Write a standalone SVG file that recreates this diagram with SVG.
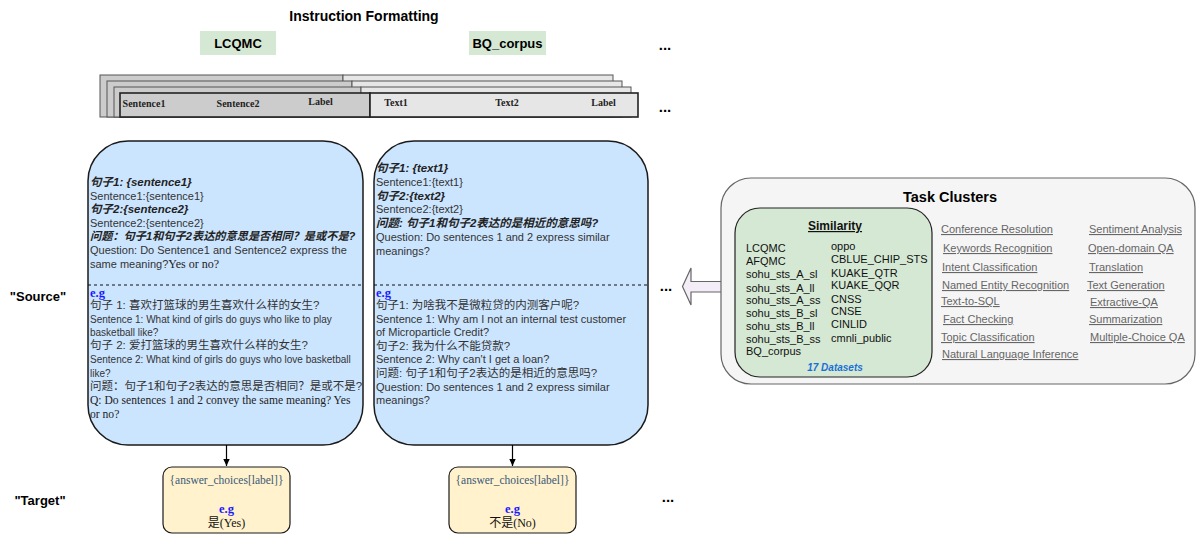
<svg xmlns="http://www.w3.org/2000/svg" width="1196" height="535" viewBox="0 0 1196 535">
<defs>
<style>
.sans{font-family:"Liberation Sans",Arial,"Noto Sans CJK SC",sans-serif}
.serif{font-family:"Liberation Serif","Times New Roman","Noto Sans CJK SC",serif}
.cjk{font-family:"Liberation Sans",Arial,"Noto Sans CJK SC",sans-serif}
.hdr{font-weight:bold;fill:#000}
.src{fill:#cce5ff;stroke:#1a1a1a;stroke-width:1.5}
.tgt{fill:#fff2cc;stroke:#1a1a1a;stroke-width:1.2}
.dash{stroke:#111;stroke-width:1.2;stroke-dasharray:3 3;fill:none}
.t11{font-size:11px;fill:#333}
.t10{font-size:10px;fill:#333}
.c115{font-size:11.5px;fill:#333}
.bi{font-weight:bold;font-style:italic;fill:#222}
.eg{font-weight:bold;font-size:12.5px;fill:#1a1aff}
.gray{fill:#cccccc;stroke:#555;stroke-width:1}
.light{fill:#e6e6e6;stroke:#555;stroke-width:1}
.front{stroke:#222;stroke-width:1.6}
.tbl{font-family:"Liberation Serif","Times New Roman",serif;font-weight:bold;font-size:10px;fill:#222}
.task{font-size:11px;fill:#666;text-decoration:underline}
.ds{font-size:11px;fill:#111}
.dots{font-family:"Liberation Sans",Arial,sans-serif;font-weight:bold;font-size:15px;fill:#000}
.conn{stroke:#000;stroke-width:1.2;fill:none}
</style>
<marker id="ah" markerWidth="8" markerHeight="8" refX="7" refY="4" orient="auto" markerUnits="userSpaceOnUse">
<path d="M0,0.8 L7,4 L0,7.2 Z" fill="#000"/>
</marker>
</defs>
<rect width="1196" height="535" fill="#fff"/>

<g id="title">
<text class="sans hdr" x="364" y="21" font-size="14" text-anchor="middle">Instruction Formatting</text>
</g>

<g id="lcqmc-label">
<rect x="200" y="31" width="76" height="24" fill="#d5e8d4"/>
<text class="sans hdr" x="238" y="48" font-size="13" text-anchor="middle">LCQMC</text>
</g>
<g id="bq-label">
<rect x="469" y="31" width="77" height="24" fill="#d5e8d4"/>
<text class="sans hdr" x="507.5" y="48" font-size="13" text-anchor="middle">BQ_corpus</text>
</g>

<g id="tables">
<rect class="gray" x="100" y="75" width="243" height="42"/>
<rect class="light" x="343" y="75" width="270" height="42"/>
<rect class="gray" x="107" y="81" width="245" height="36"/>
<rect class="light" x="352" y="81" width="270" height="36"/>
<rect class="gray" x="114" y="87" width="247" height="30"/>
<rect class="light" x="361" y="87" width="270" height="30"/>
<rect class="gray front" x="120" y="93" width="250" height="24"/>
<rect class="light front" x="370" y="93" width="268" height="24"/>
<text class="tbl" x="144" y="107" text-anchor="middle">Sentence1</text>
<text class="tbl" x="238" y="107" text-anchor="middle">Sentence2</text>
<text class="tbl" x="320.5" y="105" text-anchor="middle">Label</text>
<text class="tbl" x="396" y="106" text-anchor="middle">Text1</text>
<text class="tbl" x="507" y="106" text-anchor="middle">Text2</text>
<text class="tbl" x="603.5" y="106" text-anchor="middle">Label</text>
</g>

<g id="dots">
<text class="dots" x="665" y="50" text-anchor="middle">...</text>
<text class="dots" x="665" y="112" text-anchor="middle">...</text>
<text class="dots" x="666" y="291" text-anchor="middle">...</text>
<text class="dots" x="668" y="502" text-anchor="middle">...</text>
</g>

<g id="row-labels">
<text class="sans hdr" x="38" y="301" font-size="13" text-anchor="middle">"Source"</text>
<text class="sans hdr" x="40" y="505" font-size="13" text-anchor="middle">"Target"</text>
</g>

<g id="source-lcqmc">
<rect class="src" x="88" y="141" width="275" height="304" rx="40" ry="40"/>
<line class="dash" x1="88" y1="285" x2="363" y2="285"/>
<text class="cjk bi" x="90" y="186" font-size="11.5">句子1: {sentence1}</text>
<text class="sans t11" x="90" y="200">Sentence1:{sentence1}</text>
<text class="cjk bi" x="90" y="213" font-size="11.5">句子2:{sentence2}</text>
<text class="sans t11" x="90" y="227">Sentence2:{sentence2}</text>
<text class="cjk bi" x="90" y="240" font-size="11.2">问题：句子1和句子2表达的意思是否相同？是或不是?</text>
<text class="sans t11" x="90" y="254">Question: Do Sentence1 and Sentence2 express the</text>
<text class="sans t11" x="90" y="268">same meaning?<tspan class="serif" font-size="12" fill="#222">Yes or no?</tspan></text>
<text class="serif eg" x="90" y="297">e.g</text>
<text class="cjk c115" x="90" y="309">句子 1: 喜欢打篮球的男生喜欢什么样的女生?</text>
<text class="sans t10" x="90" y="323">Sentence 1: What kind of girls do guys who like to play</text>
<text class="sans t10" x="90" y="336">basketball like?</text>
<text class="cjk c115" x="90" y="349">句子 2: 爱打篮球的男生喜欢什么样的女生?</text>
<text class="sans t10" x="90" y="363">Sentence 2: What kind of girls do guys who love basketball</text>
<text class="sans t10" x="90" y="377">like?</text>
<text class="cjk c115" x="90" y="390">问题：句子1和句子2表达的意思是否相同？是或不是?</text>
<text class="serif" x="90" y="404" font-size="11.6" fill="#222">Q: Do sentences 1 and 2 convey the same meaning? Yes</text>
<text class="serif" x="90" y="418" font-size="11.6" fill="#222">or no?</text>
</g>

<g id="source-bq">
<rect class="src" x="374" y="141" width="274" height="304" rx="40" ry="40"/>
<line class="dash" x1="374" y1="285" x2="648" y2="285"/>
<text class="cjk bi" x="376" y="172" font-size="11.5">句子1: {text1}</text>
<text class="sans t11" x="376" y="186">Sentence1:{text1}</text>
<text class="cjk bi" x="376" y="200" font-size="11.5">句子2:{text2}</text>
<text class="sans t11" x="376" y="213">Sentence2:{text2}</text>
<text class="cjk bi" x="376" y="227" font-size="11.5">问题: 句子1和句子2表达的是相近的意思吗?</text>
<text class="sans t11" x="376" y="241">Question: Do sentences 1 and 2 express similar</text>
<text class="sans t11" x="376" y="255">meanings?</text>
<text class="serif eg" x="376" y="297">e.g</text>
<text class="cjk c115" x="376" y="309">句子1: 为啥我不是微粒贷的内测客户呢?</text>
<text class="sans t11" x="376" y="323">Sentence 1: Why am I not an internal test customer</text>
<text class="sans t11" x="376" y="336">of Microparticle Credit?</text>
<text class="cjk c115" x="376" y="350">句子2: 我为什么不能贷款?</text>
<text class="sans t11" x="376" y="363">Sentence 2: Why can't I get a loan?</text>
<text class="cjk c115" x="376" y="377">问题: 句子1和句子2表达的是相近的意思吗?</text>
<text class="sans t11" x="376" y="391">Question: Do sentences 1 and 2 express similar</text>
<text class="sans t11" x="376" y="404">meanings?</text>
</g>

<g id="target-lcqmc">
<rect class="tgt" x="163" y="467" width="127" height="66" rx="9" ry="9"/>
<text class="serif" x="226.5" y="484" font-size="11.5" fill="#3a5878" text-anchor="middle">{answer_choices[label]}</text>
<text class="serif eg" x="226.5" y="513" text-anchor="middle">e.g</text>
<text class="serif" x="226.5" y="527" font-size="12" fill="#111" text-anchor="middle">是(Yes)</text>
</g>

<g id="target-bq">
<rect class="tgt" x="449" y="467" width="127" height="66" rx="9" ry="9"/>
<text class="serif" x="512.5" y="484" font-size="11.5" fill="#3a5878" text-anchor="middle">{answer_choices[label]}</text>
<text class="serif eg" x="512.5" y="513" text-anchor="middle">e.g</text>
<text class="serif" x="512.5" y="527" font-size="12" fill="#111" text-anchor="middle">不是(No)</text>
</g>

<g id="connectors">
<line class="conn" x1="226.5" y1="445" x2="226.5" y2="466" marker-end="url(#ah)"/>
<line class="conn" x1="512.5" y1="445" x2="512.5" y2="466" marker-end="url(#ah)"/>
<polygon points="722,281.5 691,281.5 691,268 682.5,286.5 691,305 691,292 722,292" fill="#f2edf7" stroke="#666" stroke-width="1.2"/>
</g>

<g id="task-clusters">
<rect x="721" y="178" width="474" height="206" rx="30" ry="30" fill="#f5f5f5" stroke="#666" stroke-width="1.2"/>
<text class="sans hdr" x="950" y="202" font-size="14.5" text-anchor="middle">Task Clusters</text>
<g class="sans task">
<text x="941" y="233">Conference Resolution</text>
<text x="943" y="252">Keywords Recognition</text>
<text x="942" y="271">Intent Classification</text>
<text x="942" y="289">Named Entity Recognition</text>
<text x="941" y="305">Text-to-SQL</text>
<text x="943" y="323">Fact Checking</text>
<text x="941" y="341">Topic Classification</text>
<text x="942" y="358">Natural Language Inference</text>
<text x="1089" y="233">Sentiment Analysis</text>
<text x="1088" y="252">Open-domain QA</text>
<text x="1089" y="271">Translation</text>
<text x="1087" y="289">Text Generation</text>
<text x="1090" y="306">Extractive-QA</text>
<text x="1089" y="323">Summarization</text>
<text x="1090" y="341">Multiple-Choice QA</text>
</g>
</g>

<g id="similarity">
<rect x="735" y="208" width="197" height="169" rx="25" ry="25" fill="#d5e8d4" stroke="#222" stroke-width="1.2"/>
<text class="sans" x="835" y="230" font-size="12" font-weight="bold" fill="#111" text-anchor="middle" text-decoration="underline">Similarity</text>
<g class="sans ds">
<text x="746" y="252">LCQMC</text>
<text x="746" y="265">AFQMC</text>
<text x="746" y="278">sohu_sts_A_sl</text>
<text x="746" y="292">sohu_sts_A_ll</text>
<text x="746" y="304">sohu_sts_A_ss</text>
<text x="746" y="317">sohu_sts_B_sl</text>
<text x="746" y="330">sohu_sts_B_ll</text>
<text x="746" y="343">sohu_sts_B_ss</text>
<text x="746" y="355">BQ_corpus</text>
<text x="831" y="250">oppo</text>
<text x="831" y="263">CBLUE_CHIP_STS</text>
<text x="831" y="277">KUAKE_QTR</text>
<text x="831" y="289">KUAKE_QQR</text>
<text x="831" y="303">CNSS</text>
<text x="831" y="315">CNSE</text>
<text x="831" y="328">CINLID</text>
<text x="831" y="342">cmnli_public</text>
</g>
<text class="sans" x="835" y="371" font-size="10" font-weight="bold" font-style="italic" fill="#1a6fd6" text-anchor="middle">17 Datasets</text>
</g>
</svg>
